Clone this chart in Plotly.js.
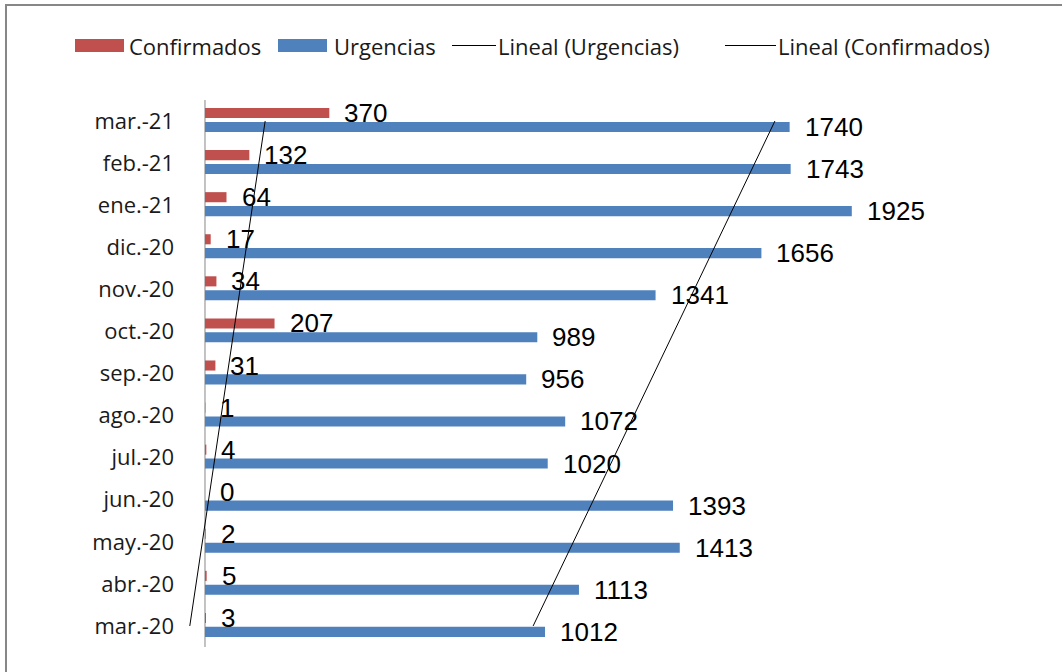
<!DOCTYPE html>
<html>
<head>
<meta charset="utf-8">
<script src="https://cdn.plot.ly/plotly-3.0.1.min.js"></script>
<style>
html,body{margin:0;padding:0;background:#fff;overflow:hidden;}
#wrap{position:relative;width:1062px;height:672px;}
#chart{width:1062px;height:672px;}
#frame{position:absolute;left:5px;top:4px;width:1200px;height:800px;border-top:2px solid #878787;border-left:2px solid #878787;pointer-events:none;}
</style>
</head>
<body>
<div id="wrap"><div id="chart"></div><div id="frame"></div></div>
<script>
const categories = ["mar.-20","abr.-20","may.-20","jun.-20","jul.-20","ago.-20","sep.-20","oct.-20","nov.-20","dic.-20","ene.-21","feb.-21","mar.-21"];
const confirmados = [3,5,2,0,4,1,31,207,34,17,64,132,370];
const urgencias = [1012,1113,1413,1393,1020,1072,956,989,1341,1656,1925,1743,1740];

const RED = "#C0504D", BLUE = "#4F81BD";
const W = 1062, H = 672;
const ML = 185, MR = 17, MT = 100, MB = 25;
const PW = W - ML - MR, PH = H - MT - MB;
const XMIN = -59.5, XMAX = 2500;
const PX = x => (x - ML) / PW;
const PY = y => 1 - (y - MT) / PH;

const idx = categories.map((_, i) => i);

function linfit(ys) {
  const n = ys.length;
  const mx = idx.reduce((a, b) => a + b, 0) / n;
  const my = ys.reduce((a, b) => a + b, 0) / n;
  let sxy = 0, sxx = 0;
  for (let i = 0; i < n; i++) { sxy += (i - mx) * (ys[i] - my); sxx += (i - mx) * (i - mx); }
  const b = sxy / sxx, a = my - b * mx;
  return [a, a + b * (n - 1)];
}

const BW = 0.24;
const RED_OFF = 0.07, BLUE_OFF = -0.26;

const traces = [
  {type: "bar", orientation: "h", name: "Confirmados", x: confirmados, y: idx,
   width: BW, offset: RED_OFF, marker: {color: RED}, hoverinfo: "x"},
  {type: "bar", orientation: "h", name: "Urgencias", x: urgencias, y: idx,
   width: BW, offset: BLUE_OFF, marker: {color: BLUE}, hoverinfo: "x"},
  {type: "scatter", mode: "lines", name: "Lineal (Urgencias)", x: linfit(urgencias), y: [0, categories.length - 1],
   line: {color: "#000", width: 1}, hoverinfo: "skip"},
  {type: "scatter", mode: "lines", name: "Lineal (Confirmados)", x: linfit(confirmados), y: [0, categories.length - 1],
   line: {color: "#000", width: 1}, hoverinfo: "skip"}
];

const labelFont = {family: "Liberation Sans, Arial, sans-serif", size: 26, color: "#000"};
const annotations = [];
confirmados.forEach((v, i) => annotations.push({
  x: v, y: i + RED_OFF + BW / 2, xref: "x", yref: "y", text: String(v), showarrow: false,
  xanchor: "left", yanchor: "middle", xshift: 13, font: labelFont
}));
urgencias.forEach((v, i) => annotations.push({
  x: v, y: i + BLUE_OFF + BW / 2, xref: "x", yref: "y", text: String(v), showarrow: false,
  xanchor: "left", yanchor: "middle", xshift: 13, font: labelFont
}));

// custom legend
const legFont = {family: "Open Sans, sans-serif", size: 22, color: "#1a1a1a"};
const LY = 45.5;
const shapes = [
  // category axis line at value 0
  {type: "line", xref: "x", yref: "y", x0: 0, x1: 0, y0: -0.5, y1: categories.length - 0.5,
   line: {color: "#868686", width: 1}, layer: "below"},
  {type: "rect", xref: "paper", yref: "paper", x0: PX(75), x1: PX(124), y0: PY(52), y1: PY(39), fillcolor: RED, line: {width: 0}},
  {type: "rect", xref: "paper", yref: "paper", x0: PX(278), x1: PX(327), y0: PY(52), y1: PY(39), fillcolor: BLUE, line: {width: 0}},
  {type: "line", xref: "paper", yref: "paper", x0: PX(452), x1: PX(496), y0: PY(LY), y1: PY(LY), line: {color: "#000", width: 1}},
  {type: "line", xref: "paper", yref: "paper", x0: PX(725), x1: PX(776), y0: PY(LY), y1: PY(LY), line: {color: "#000", width: 1}}
];
const legItems = [[traces[0].name, 127], [traces[1].name, 332], [traces[2].name, 496], [traces[3].name, 776]];
legItems.forEach(([t, x]) => annotations.push({
  xref: "paper", yref: "paper", x: PX(x), y: PY(LY), text: t, showarrow: false,
  xanchor: "left", yanchor: "middle", font: legFont
}));

const layout = {
  width: W, height: H,
  margin: {l: ML, r: MR, t: MT, b: MB, pad: 0},
  paper_bgcolor: "#fff", plot_bgcolor: "#fff",
  showlegend: false,
  barmode: "overlay",
  xaxis: {range: [XMIN, XMAX], visible: false, fixedrange: true},
  yaxis: {
    range: [-0.5, categories.length - 0.5], tickmode: "array", tickvals: idx, ticktext: categories,
    showline: false, showgrid: false, zeroline: false,
    ticks: "", ticklabelstandoff: 10,
    tickfont: {family: "Open Sans, sans-serif", size: 22, color: "#1a1a1a"}, fixedrange: true
  },
  shapes: shapes,
  annotations: annotations
};

Plotly.newPlot("chart", traces, layout, {displayModeBar: false, staticPlot: true});
</script>
</body>
</html>
